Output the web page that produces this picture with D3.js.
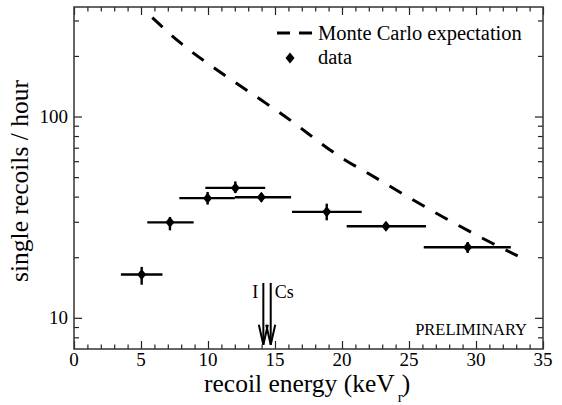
<!DOCTYPE html>
<html>
<head>
<meta charset="utf-8">
<script src="https://cdn.jsdelivr.net/npm/d3@7"></script>
</head>
<body style="margin:0">
<script>
// data
var energy = [5.05, 7.16, 9.97, 12.04, 13.98, 18.86, 23.28, 29.38],
    energyLo = [3.5, 5.47, 7.86, 9.8, 12.0, 16.27, 20.35, 26.1],
    energyHi = [6.6, 8.93, 12.0, 14.27, 16.2, 21.47, 26.27, 32.6],
    rate = [16.4, 29.8, 39.3, 44.2, 39.7, 33.6, 28.5, 22.4],
    rateLo = [14.6, 27.2, 36.5, 41.7, 37.8, 30.5, 27.3, 21.0],
    rateHi = [17.9, 31.7, 42.2, 47.6, 41.5, 36.9, 29.7, 23.8];

var mcEnergy = [5.84, 7.81, 10.92, 14.03, 15.57, 20.37, 21.78, 24.89, 27.99, 31.14, 33.11],
    mcRate = [310, 236, 166, 120, 102, 60, 53, 40, 30.5, 23.6, 20.3];

var xMajor = [0, 5, 10, 15, 20, 25, 30, 35],
    xMinor = d3.range(0, 36).filter(function(d) { return d % 5 != 0; }),
    yMajor = [10, 100],
    yMinor = [8, 9, 20, 30, 40, 50, 60, 70, 80, 90, 200, 300];

var lineEnergy = [14.13, 14.68],
    lineLabel = ["I", "Cs"];

var serif = "Liberation Serif";

// set the dimensions and margins of the graph
var margin = {top: 7, right: 19, bottom: 56, left: 74},
    width = 562 - margin.left - margin.right,
    height = 405 - margin.top - margin.bottom;

var x = d3.scaleLinear().domain([0, 35]).range([0, width]);
var y = d3.scaleLog().domain([7, 350]).range([height, 0]);

var svg = d3.select("body")
    .append("svg")
    .attr("width", 562)
    .attr("height", 405)
  .append("g")
    .attr("transform", "translate(" + margin.left + "," + margin.top + ")");

// ticks on all four sides, pointing inward
function ticks(axis, vals, len, t) {
    var g = svg.append("g")
        .attr("transform", t || null)
        .call(axis.tickValues(vals).tickSize(len).tickFormat(""));
    g.select(".domain").remove();
    g.selectAll("line").attr("stroke", "#222").attr("stroke-width", 1.2);
    return g;
}
ticks(d3.axisTop(x), xMajor, 8, "translate(0," + height + ")");
ticks(d3.axisTop(x), xMinor, 4.5, "translate(0," + height + ")");
ticks(d3.axisBottom(x), xMajor, 8);
ticks(d3.axisBottom(x), xMinor, 4.5);
ticks(d3.axisRight(y), yMajor, 8);
ticks(d3.axisRight(y), yMinor, 5);
ticks(d3.axisLeft(y), yMajor, 8, "translate(" + width + ",0)");
ticks(d3.axisLeft(y), yMinor, 5, "translate(" + width + ",0)");

// tick labels
svg.selectAll(".xlab")
    .data(xMajor)
  .enter().append("text")
    .attr("x", function(d) { return x(d); })
    .attr("y", height + 17)
    .attr("text-anchor", "middle")
    .style("font-family", serif)
    .style("font-size", "19px")
    .text(function(d) { return d; });

svg.selectAll(".ylab")
    .data(yMajor)
  .enter().append("text")
    .attr("x", -6)
    .attr("y", function(d) { return y(d) + 6; })
    .attr("text-anchor", "end")
    .style("font-family", serif)
    .style("font-size", "19px")
    .text(function(d) { return d; });

// frame
svg.append("rect")
    .attr("width", width)
    .attr("height", height)
    .attr("fill", "none")
    .attr("stroke", "#333")
    .attr("stroke-width", 1.5);

// Monte Carlo curve
var mc = mcEnergy.map(function(e, i) { return {e: e, r: mcRate[i]}; });
var valueline = d3.line()
    .curve(d3.curveMonotoneX)
    .x(function(d) { return x(d.e); })
    .y(function(d) { return y(d.r); });

svg.append("path")
    .datum(mc)
    .attr("d", valueline)
    .attr("fill", "none")
    .attr("stroke", "#000")
    .attr("stroke-width", 3)
    .attr("stroke-dasharray", "14,12.5");

// data with error bars
var data = energy.map(function(e, i) {
    return {e: e, lo: energyLo[i], hi: energyHi[i], r: rate[i], rlo: rateLo[i], rhi: rateHi[i]};
});

svg.selectAll(".xerr")
    .data(data)
  .enter().append("line")
    .attr("x1", function(d) { return x(d.lo); })
    .attr("x2", function(d) { return x(d.hi); })
    .attr("y1", function(d) { return y(d.r); })
    .attr("y2", function(d) { return y(d.r); })
    .attr("stroke", "#000")
    .attr("stroke-width", 2.4);

svg.selectAll(".yerr")
    .data(data)
  .enter().append("line")
    .attr("x1", function(d) { return x(d.e); })
    .attr("x2", function(d) { return x(d.e); })
    .attr("y1", function(d) { return y(d.rlo); })
    .attr("y2", function(d) { return y(d.rhi); })
    .attr("stroke", "#000")
    .attr("stroke-width", 2.4);

var diamond = "M0,-5.5L4.5,0L0,5.5L-4.5,0Z";
svg.selectAll(".dot")
    .data(data)
  .enter().append("path")
    .attr("d", diamond)
    .attr("transform", function(d) { return "translate(" + x(d.e) + "," + y(d.r) + ")"; })
    .attr("fill", "#000");

// I / Cs arrows
var arrowTop = y(14.9), arrowTip = y(7.35);
lineEnergy.forEach(function(e, i) {
    var px = x(e);
    svg.append("line")
        .attr("x1", px).attr("x2", px)
        .attr("y1", arrowTop).attr("y2", arrowTip)
        .attr("stroke", "#000").attr("stroke-width", 2);
    svg.append("path")
        .attr("d", "M" + (px - 4.5) + "," + (arrowTip - 20) + "L" + px + "," + arrowTip + "L" + (px + 4.5) + "," + (arrowTip - 20))
        .attr("fill", "none").attr("stroke", "#000").attr("stroke-width", 2);
    svg.append("text")
        .attr("x", i == 0 ? px - 5 : px + 4)
        .attr("y", y(14.9) + 15)
        .attr("text-anchor", i == 0 ? "end" : "start")
        .style("font-family", serif)
        .style("font-size", "18px")
        .text(lineLabel[i]);
});

// PRELIMINARY
svg.append("text")
    .attr("x", width - 16)
    .attr("y", height - 14)
    .attr("text-anchor", "end")
    .style("font-family", serif)
    .style("font-size", "16.5px")
    .text("PRELIMINARY");

// legend
var leg = svg.append("g").attr("transform", "translate(" + (277 - margin.left) + "," + (33 - margin.top) + ")");
leg.append("line")
    .attr("x1", 0).attr("x2", 35).attr("y1", 0).attr("y2", 0)
    .attr("stroke", "#000").attr("stroke-width", 3)
    .attr("stroke-dasharray", "13,9");
leg.append("text")
    .attr("x", 41).attr("y", 7)
    .style("font-family", serif)
    .style("font-size", "20.5px")
    .text("Monte Carlo expectation");
leg.append("path")
    .attr("d", diamond)
    .attr("transform", "translate(13,25)")
    .attr("fill", "#000");
leg.append("text")
    .attr("x", 41).attr("y", 31)
    .style("font-family", serif)
    .style("font-size", "20.5px")
    .text("data");

// axis titles
var xt = svg.append("text")
    .attr("x", 204 - margin.left)
    .attr("y", 392 - margin.top)
    .style("font-family", serif)
    .style("font-size", "25.5px")
    .text("recoil energy (keV");
xt.append("tspan").attr("dy", 10).attr("dx", 3).style("font-size", "15px").text("r");
xt.append("tspan").attr("dy", -10).attr("dx", -1).text(")");

svg.append("text")
    .attr("transform", "rotate(-90)")
    .attr("x", -(181 - margin.top))
    .attr("y", 28 - margin.left)
    .attr("text-anchor", "middle")
    .style("font-family", serif)
    .style("font-size", "25.5px")
    .text("single recoils / hour");
</script>
</body>
</html>
